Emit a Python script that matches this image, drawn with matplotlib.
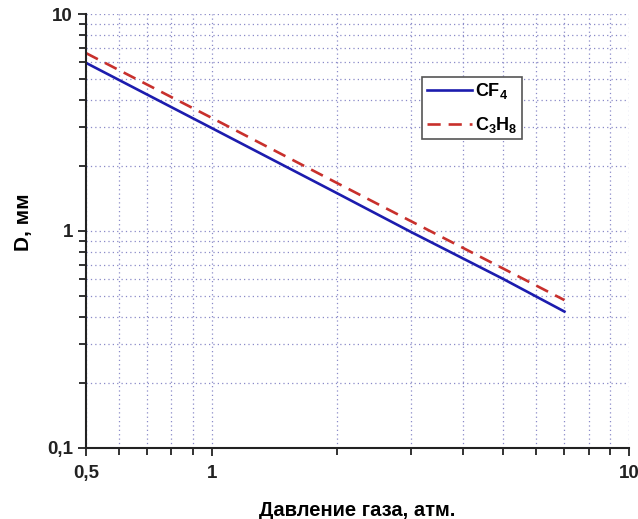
import matplotlib.pyplot as plt
from matplotlib.ticker import LogLocator, FuncFormatter, NullFormatter

# Gas pressure, atm and track diameter, mm
pressure = [0.5, 1.0, 2.0, 3.0, 5.0, 7.0]
d_cf4 = [5.95, 2.98, 1.49, 0.99, 0.60, 0.425]
d_c3h8 = [6.6, 3.32, 1.66, 1.11, 0.67, 0.48]

plt.rcParams['font.family'] = ['Liberation Sans', 'DejaVu Sans']
plt.rcParams['mathtext.fontset'] = 'custom'
plt.rcParams['mathtext.rm'] = 'Liberation Sans:bold'
plt.rcParams['mathtext.it'] = 'Liberation Sans:bold'
plt.rcParams['mathtext.bf'] = 'Liberation Sans:bold'

fig = plt.figure(figsize=(6.38, 5.19), dpi=100)
ax = fig.add_axes([0.135, 0.137, 0.851, 0.836])

ax.plot(pressure, d_cf4, color='#1c1cae', lw=1.9, label='CF$_4$')
ax.plot(pressure, d_c3h8, color='#c8302c', lw=1.9, ls=(0, (5, 3)), label='C$_3$H$_8$')

ax.set_xscale('log')
ax.set_yscale('log')
ax.set_xlim(0.5, 10)
ax.set_ylim(0.1, 10)

ax.yaxis.set_major_locator(LogLocator(base=10, subs=(1.0,)))
ax.yaxis.set_minor_locator(LogLocator(base=10, subs=range(2, 10)))

def comma_fmt(v, pos):
    return ('%g' % v).replace('.', ',')

ax.xaxis.set_major_formatter(FuncFormatter(comma_fmt))
ax.yaxis.set_major_formatter(FuncFormatter(comma_fmt))
ax.xaxis.set_minor_formatter(NullFormatter())
ax.yaxis.set_minor_formatter(NullFormatter())
ax.set_xticks([0.5, 1, 10])
ax.set_xticks([0.6, 0.7, 0.8, 0.9, 2, 3, 4, 5, 6, 7, 8, 9], minor=True)

ax.grid(True, which='both', color='#8a8ac8', ls=(0, (1, 2.5)), lw=0.9)
ax.set_axisbelow(True)

for side in ('top', 'right'):
    ax.spines[side].set_visible(False)
for side in ('left', 'bottom'):
    ax.spines[side].set_linewidth(1.5)
    ax.spines[side].set_color('#222222')

ax.tick_params(which='both', direction='out', width=1.3, colors='#222222',
               labelsize=13.5)
ax.tick_params(which='major', length=6)
ax.tick_params(which='minor', length=5)
ax.tick_params(axis='x', pad=6)
for lab in ax.get_xticklabels() + ax.get_yticklabels():
    lab.set_fontweight('bold')

ax.set_xlabel('Давление газа, атм.', fontsize=14.5, fontweight='bold', labelpad=14)
ax.set_ylabel('D, мм', fontsize=15, fontweight='bold', labelpad=10, y=0.52)

leg = ax.legend(loc='upper left', bbox_to_anchor=(0.619, 0.855), fontsize=13,
                frameon=True, fancybox=False, handlelength=2.5,
                handletextpad=0.15, borderpad=0.25, labelspacing=0.75,
                borderaxespad=0)
leg.get_frame().set_edgecolor('#555555')
leg.get_frame().set_linewidth(1.2)
leg.get_frame().set_alpha(1)
for t in leg.get_texts():
    t.set_fontweight('bold')

fig.savefig('out.png', dpi=100)
